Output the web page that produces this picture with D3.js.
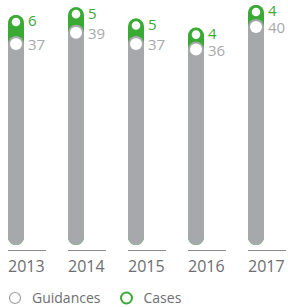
<!DOCTYPE html>
<html>
<head>
<meta charset="utf-8">
<script src="https://cdn.jsdelivr.net/npm/d3@7"></script>
<style>
  body { margin: 0; background: #fff; }
  text { font-family: "Open Sans", sans-serif; }
</style>
</head>
<body>
<div id="chart"></div>
<script>
let years = ["2013", "2014", "2015", "2016", "2017"];
let guidances = [37, 39, 37, 36, 40];
let cases = [6, 5, 5, 4, 4];
let legendLabels = ["Guidances", "Cases"];

let width = 288, height = 307;
let green = "#3aaa35", grey = "#a7a8ac";
let barW = 16, baseY = 245;

let svg = d3.select("#chart").append("svg")
    .attr("width", width)
    .attr("height", height);

let x = d3.scaleBand().domain(years).range([8, 308]);
let y = d3.scaleLinear().domain([0, 40]).range([baseY, 19]);
let c = d3.scaleLinear().domain([0, 6]).range([0, 21]);

let rows = years.map((yr, i) => ({year: yr, g: guidances[i], c: cases[i]}));

// green pills go underneath the grey ones
svg.selectAll("rect.case")
    .data(rows)
    .enter()
    .append("rect")
    .attr("x", d => x(d.year))
    .attr("y", d => y(d.g) - c(d.c))
    .attr("width", barW)
    .attr("height", d => baseY - y(d.g) + c(d.c))
    .attr("rx", barW / 2)
    .style("fill", green);

svg.selectAll("rect.guid")
    .data(rows)
    .enter()
    .append("rect")
    .attr("x", d => x(d.year))
    .attr("y", d => y(d.g))
    .attr("width", barW)
    .attr("height", d => baseY - y(d.g))
    .attr("rx", barW / 2)
    .style("fill", grey);

svg.selectAll("circle.guid")
    .data(rows)
    .enter()
    .append("circle")
    .attr("cx", d => x(d.year) + barW / 2)
    .attr("cy", d => y(d.g) + 8)
    .attr("r", 6)
    .style("fill", "#fff");

svg.selectAll("circle.case")
    .data(rows)
    .enter()
    .append("circle")
    .attr("cx", d => x(d.year) + barW / 2)
    .attr("cy", d => y(d.g) - c(d.c) + 7)
    .attr("r", 5.6)
    .style("fill", "#fff")
    .style("stroke", green)
    .style("stroke-width", 2.6);

svg.selectAll("text.case")
    .data(rows)
    .enter()
    .append("text")
    .attr("x", d => x(d.year) + barW + 4)
    .attr("y", d => y(d.g) - c(d.c) + 6)
    .attr("dy", "0.36em")
    .style("font-size", "15px")
    .style("fill", green)
    .text(d => d.c);

svg.selectAll("text.guid")
    .data(rows)
    .enter()
    .append("text")
    .attr("x", d => x(d.year) + barW + 4)
    .attr("y", d => y(d.g) + 9)
    .attr("dy", "0.36em")
    .style("font-size", "15px")
    .style("fill", grey)
    .text(d => d.g);

// year underline + label
svg.selectAll("line.axis")
    .data(years)
    .enter()
    .append("line")
    .attr("x1", d => x(d))
    .attr("x2", d => x(d) + 38)
    .attr("y1", 250.5)
    .attr("y2", 250.5)
    .style("stroke", "#8a8b8e")
    .style("stroke-width", 1);

svg.selectAll("text.year")
    .data(years)
    .enter()
    .append("text")
    .attr("x", d => x(d))
    .attr("y", 272)
    .style("font-size", "16px")
    .style("fill", "#6d6e71")
    .text(d => d);

// legend
let legendX = [15, 126.5];
let legendCol = ["#9d9ea2", green];
legendLabels.forEach((lab, i) => {
    svg.append("circle")
        .attr("cx", legendX[i])
        .attr("cy", 298)
        .attr("r", 5.5)
        .style("fill", "none")
        .style("stroke", legendCol[i])
        .style("stroke-width", i == 0 ? 1.2 : 2);
    svg.append("text")
        .attr("x", legendX[i] + 17)
        .attr("y", 298)
        .attr("dy", "0.36em")
        .style("font-size", "14px")
        .style("fill", "#6d6e71")
        .text(lab);
});
</script>
</body>
</html>
